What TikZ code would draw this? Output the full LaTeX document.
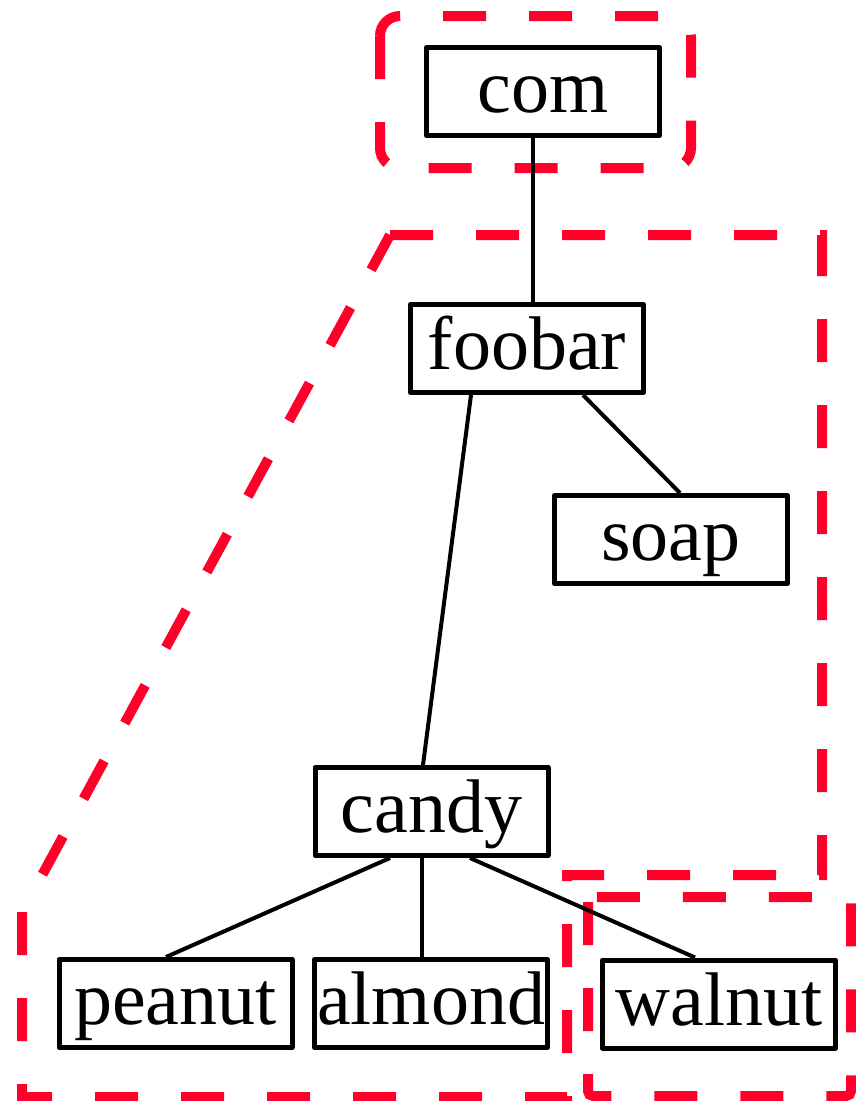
\documentclass[tikz,border=0pt]{standalone}
\usepackage{fontspec}
\setmainfont{Liberation Serif}
\definecolor{zonered}{RGB}{255,0,42}
\begin{document}
\begin{tikzpicture}[x = 1pt, y = -1pt,
        box/.style = {draw, line width = 5pt, line join = round, inner sep = 0pt,
                minimum width = 233pt, minimum height = 88pt,
                text height = 51pt, text depth = 9pt,
                font = \fontsize{76}{80}\selectfont},
        edge/.style = {line width = 4pt},
        zone/.style = {draw = zonered, line width = 10pt, dash pattern = on 43pt off 43pt}]
        \useasboundingbox (0,0) rectangle (856,1101);

        \draw[zone, rounded corners = 20pt] (380,16) rectangle (691,168); %com
        \draw[zone] (390,235) -- (822,235) -- (822,875) -- (567,875) -- (567,1097)
                -- (22,1097) -- (22,912) -- cycle; %foobar
        \draw[zone, rounded corners = 5pt] (588,897) rectangle (851,1096); %walnut

        \node[box] (com) at (543,91.5) {com};
        \node[box] (foobar) at (527,348.5) {foobar};
        \node[box] (soap) at (671,539.5) {soap};
        \node[box] (candy) at (431.5,811.5) {candy};
        \node[box] (peanut) at (175.5,1003.5) {peanut};
        \node[box] (almond) at (431,1003.5) {almond};
        \node[box] (walnut) at (719,1004) {walnut};

        \draw[edge] ([xshift = -10pt]com.south) -- ([xshift = 6pt]foobar.north);
        \draw[edge] ([xshift = -56pt]foobar.south) -- ([xshift = -8.5pt]candy.north);
        \draw[edge] ([xshift = 56pt]foobar.south) -- ([xshift = 9pt]soap.north);
        \draw[edge] ([xshift = -41.5pt]candy.south) -- ([xshift = -9.5pt]peanut.north);
        \draw[edge] ([xshift = -9.5pt]candy.south) -- ([xshift = -9pt]almond.north);
        \draw[edge] ([xshift = 38.5pt]candy.south) -- ([xshift = -24pt]walnut.north);
\end{tikzpicture}
\end{document}
